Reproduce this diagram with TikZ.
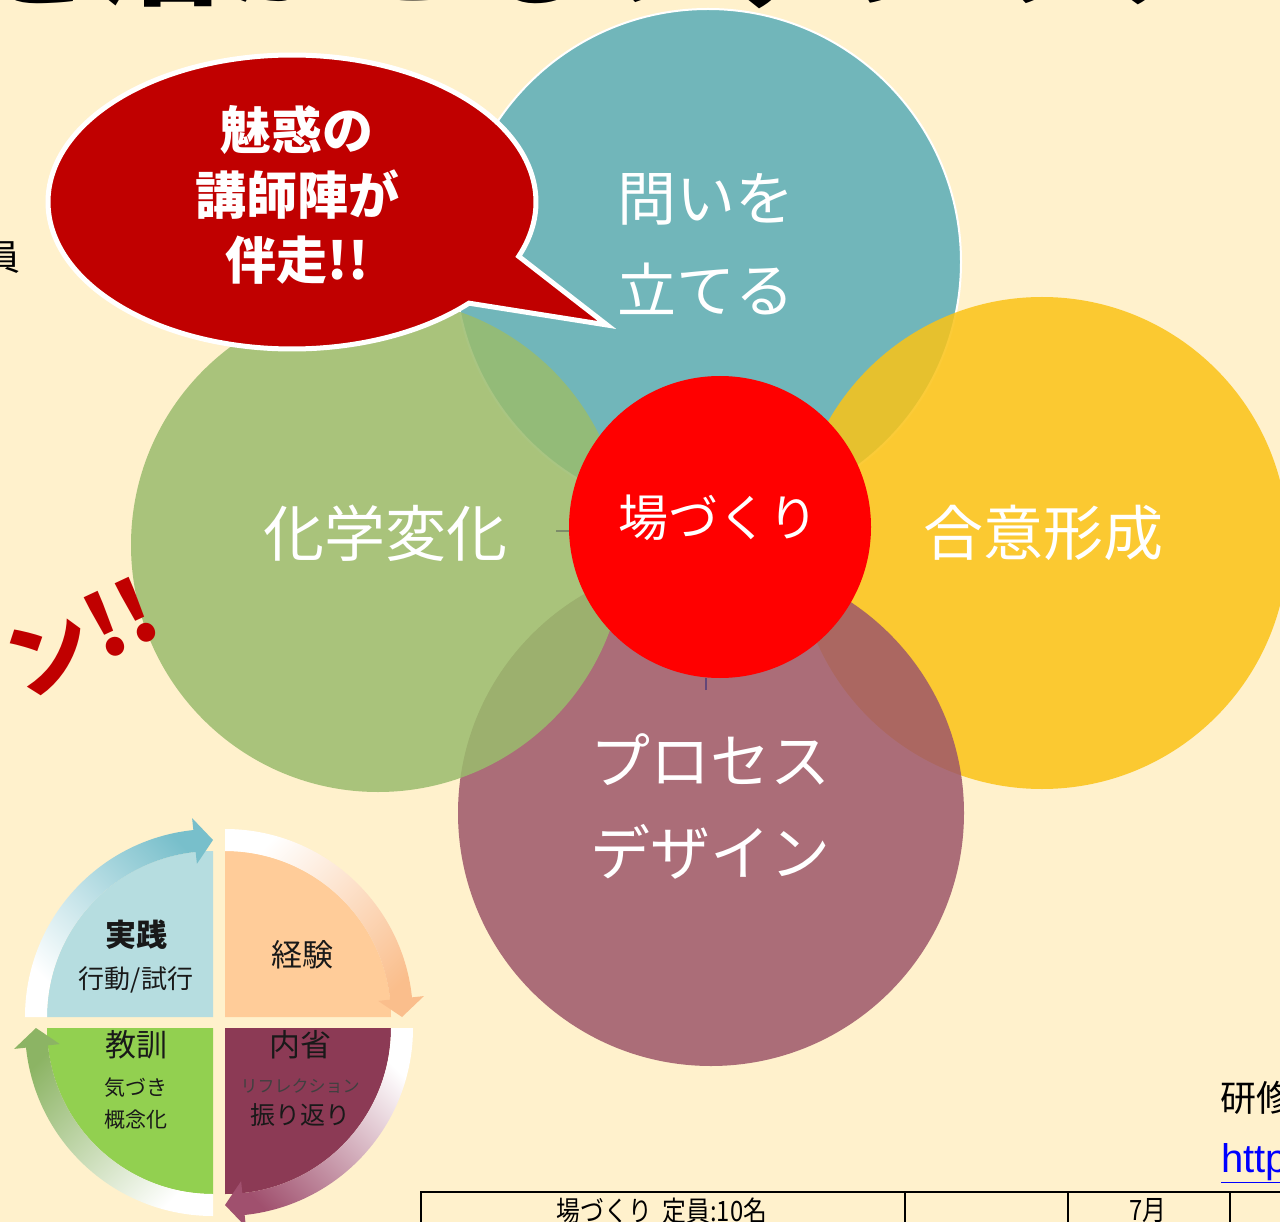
\documentclass[tikz,border=0pt]{standalone}
\usepackage{fontspec}
\setmainfont{Noto Sans CJK JP}
\newfontfamily\urlfont{Liberation Sans}
\usetikzlibrary{calc}
\definecolor{cream}{RGB}{255,241,204}
\definecolor{askteal}{RGB}{89,172,183}
\definecolor{agreeyellow}{RGB}{251,195,22}
\definecolor{processmauve}{RGB}{157,87,106}
\definecolor{reactgreen}{RGB}{154,188,109}
\definecolor{hubred}{RGB}{255,0,0}
\definecolor{bubblered}{RGB}{192,0,0}
\definecolor{qblue}{RGB}{182,221,224}
\definecolor{qpeach}{RGB}{255,204,153}
\definecolor{qmaroon}{RGB}{140,58,85}
\definecolor{qgreen}{RGB}{146,208,80}
\definecolor{bteal}{RGB}{120,191,203}
\definecolor{bpeach}{RGB}{250,190,140}
\definecolor{bmaroon}{RGB}{160,80,110}
\definecolor{bgreen}{RGB}{140,180,100}
\newcommand{\fsz}[1]{\fontsize{#1}{#1}\selectfont}
% band with arrow head round one quarter of the cycle
\newcommand{\cycband}[3]{%
  \shade[#3] ($(#1)+(#2:166)$) -- ($(#1)+(#2:188)$)
    arc[start angle=#2, end angle=#2+84, radius=188]
    -- ($(#1)+(#2+84:200)$) -- ($(#1)+(#2+90:177)$)
    -- ($(#1)+(#2+84:154)$) -- ($(#1)+(#2+84:166)$)
    arc[start angle=#2+84, end angle=#2, radius=166] -- cycle;}
\newcommand{\cycquad}[3]{%
  \fill[#3] (#1) -- ($(#1)+(#2:166)$)
    arc[start angle=#2, end angle=#2+90, radius=166] -- cycle;}
\begin{document}
\begin{tikzpicture}[x=1pt, y=-1pt,
    petal/.style={circle, inner sep=0pt, fill opacity=0.85},
    petaltext/.style={text=white, align=center},
    cyctext/.style={text=black!90, inner sep=0pt},
    stub/.style={line width=2pt}]
  \useasboundingbox (0,0) rectangle (1280,1222);
  \clip (0,0) rectangle (1280,1222);
  \fill[cream] (0,0) rectangle (1280,1222);

  % petals and hub
  \node[petal, fill=askteal, draw=white, draw opacity=1, line width=2pt,
    minimum size=506pt] (ask) at (708,262) {};
  \node[petal, fill=agreeyellow, minimum size=492pt] (agree) at (1042,543) {};
  \node[petal, fill=processmauve, minimum size=506pt] (process) at (711,813) {};
  \node[petal, fill=reactgreen, minimum size=494pt] (react) at (378,545) {};
  \coordinate (stubw) at (556,531);
  \coordinate (stubs) at (706,690);
  \node[circle, fill=hubred, inner sep=0pt, minimum size=302pt] (hub) at (720,527) {};
  \draw[stub, draw={rgb,255:red,125;green,140;blue,105}] (stubw) -- (hub.west |- stubw);
  \draw[stub, draw={rgb,255:red,100;green,70;blue,120}] (stubs) -- (stubs |- hub.south);

  \node[petaltext, font=\fontsize{59}{92}\selectfont] (asklbl) at (706,244) {問いを\\立てる};
  \node[petaltext, font=\fsz{60}] (agreelbl) at (1043,533) {合意形成};
  \node[petaltext, font=\fsz{61}] (reactlbl) at (385,533) {化学変化};
  \node[petaltext, font=\fontsize{60}{92}\selectfont] (processlbl) at (710,806) {プロセス\\デザイン};
  \node[petaltext, font=\fsz{50}] (hublbl) at (718,518) {場づくり};

  % speech bubble
  \coordinate (tip) at (607,325);
  \draw[line width=5pt, draw=white, fill=bubblered]
    ([shift={(292,202)}]43.5:244 and 147)
    arc[start angle=43.5, end angle=381.7, x radius=244, y radius=147]
    -- (tip) -- cycle;
  \node[text=white, align=center, font=\fontsize{51}{65}\selectfont\bfseries]
    (bubblelbl) at (297,195) {魅惑の\\講師陣が\\伴走!!};

  % cut off texts at the edges
  \node[anchor=base west, inner sep=0pt, font=\fsz{125}\bfseries] (title) at (-30,-4)
    {を活かせるファシリテ};
  \node[anchor=east, inner sep=0pt, font=\fsz{36}] (member) at (21,258) {員};
  \node[anchor=east, inner sep=0pt, rotate=25, text=bubblered,
    font=\fsz{86}\bfseries] (shout) at (153,606) {ョ\kern20ptン\kern2pt!!};

  % cycle
  \coordinate (tl) at (213,1017);
  \coordinate (tr) at (225,1017);
  \coordinate (br) at (225,1028);
  \coordinate (bl) at (213,1028);
  \cycquad{tl}{180}{qblue}
  \cycquad{tr}{270}{qpeach}
  \cycquad{br}{0}{qmaroon}
  \cycquad{bl}{90}{qgreen}
  \cycband{tl}{180}{top color=bteal, bottom color=white, shading angle=-45}
  \cycband{tr}{270}{top color=white, bottom color=bpeach, shading angle=45}
  \cycband{br}{0}{top color=white, bottom color=bmaroon, shading angle=-45}
  \cycband{bl}{90}{top color=bgreen, bottom color=white, shading angle=45}
  \node[cyctext, font=\fsz{31}\bfseries] (act) at (136,935) {実践};
  \node[cyctext, font=\fsz{26}] (actsub) at (136,980) {行動/試行};
  \node[cyctext, font=\fsz{31}] (exp) at (302,955) {経験};
  \node[cyctext, font=\fsz{31}] (lesson) at (136,1045) {教訓};
  \node[cyctext, font=\fsz{21}] (lessona) at (136,1088) {気づき};
  \node[cyctext, font=\fsz{21}] (lessonb) at (136,1120) {概念化};
  \node[cyctext, font=\fsz{31}] (look) at (300,1045) {内省};
  \node[cyctext, font=\fsz{17}, text=black!75] (looka) at (300,1086) {リフレクション};
  \node[cyctext, font=\fsz{25}] (lookb) at (300,1115) {振り返り};

  % bottom right
  \node[anchor=west, inner sep=0pt, font=\fsz{36}] (course) at (1220,1098) {研修};
  \node[anchor=base west, inner sep=0pt, text=blue, font=\urlfont\fsz{40}] (link)
    at (1221,1172) {\underline{http}};
  \draw[line width=1.5pt] (420,1192) -- (1290,1192);
  \foreach \x in {421,905,1068,1230}
    \draw[line width=1.5pt] (\x,1192) -- (\x,1230);
  \node[inner sep=0pt, xscale=0.85, font=\fsz{28}] (cell) at (662,1211) {場づくり\ \ 定員:10名};
  \node[inner sep=0pt, xscale=0.85, font=\fsz{28}] (month) at (1148,1211) {7月};
\end{tikzpicture}
\end{document}
